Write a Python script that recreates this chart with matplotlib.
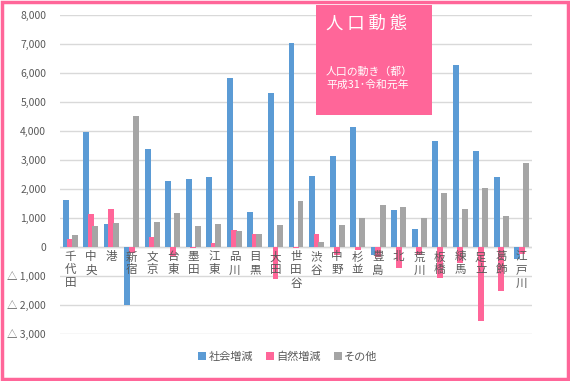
import matplotlib.pyplot as plt
import matplotlib.patches as patches
from matplotlib.ticker import FuncFormatter
import numpy as np

plt.rcParams['font.family'] = ['Noto Sans CJK JP', 'DejaVu Sans']

# 23 wards
wards = ['千代田', '中央', '港', '新宿', '文京', '台東', '墨田', '江東', '品川', '目黒', '大田',
         '世田谷', '渋谷', '中野', '杉並', '豊島', '北', '荒川', '板橋', '練馬', '足立', '葛飾', '江戸川']
social = [1620, 3970, 800, -1990, 3380, 2280, 2340, 2410, 5830, 1210, 5310,
          7030, 2450, 3140, 4140, -280, 1280, 620, 3660, 6280, 3310, 2410, -410]
natural = [280, 1150, 1310, -200, 360, -300, -20, 140, 590, 450, -1090,
           -20, 450, -280, -120, -360, -710, -270, -1070, -550, -2540, -1510, -230]
other = [410, 720, 840, 4520, 870, 1180, 720, 800, 550, 450, 760,
         1590, 170, 760, 1000, 1450, 1380, 1000, 1860, 1310, 2030, 1070, 2900]

blue = '#5B9BD5'
pink = '#FF6699'
grey = '#A5A5A5'
txt = '#595959'

fig = plt.figure(figsize=(5.7, 3.81), dpi=100)
ax = fig.add_axes([60 / 570, 1 - 334 / 381, 472 / 570, 319 / 381])

x = np.arange(len(wards))
w = 0.29
off = 0.22  # bars overlap a little, like the excel original
ax.bar(x - off, social, w, color=blue, zorder=2, label='社会増減')
ax.bar(x, natural, w, color=pink, zorder=2, label='自然増減')
ax.bar(x + off, other, w, color=grey, zorder=2, label='その他')

ax.set_xlim(-0.5, len(wards) - 0.5)
ax.set_ylim(-3000, 8000)
ax.set_yticks(range(-3000, 8001, 1000))


def fmt(v, pos):
    if v < 0:
        return '△ {:,.0f}'.format(-v)
    return '{:,.0f}'.format(v)


ax.yaxis.set_major_formatter(FuncFormatter(fmt))
ax.tick_params(axis='y', length=0, labelsize=7.5, labelcolor=txt, pad=10)
ax.set_xticks([])
ax.grid(axis='y', color='#D9D9D9', linewidth=1, zorder=0)
for s in ax.spines.values():
    s.set_visible(False)
ax.axhline(0, color='#D9D9D9', linewidth=1, zorder=1)

# vertical ward labels
for i, name in enumerate(wards):
    ax.text(i, -120, '\n'.join(name), ha='center', va='top', fontsize=8.3,
            color=txt, linespacing=1.0, zorder=5)

# title box
fig.patches.append(patches.Rectangle((316 / 570, 1 - 115 / 381), 116 / 570, 110 / 381,
                                     transform=fig.transFigure, facecolor=pink,
                                     edgecolor='none', zorder=10))
fig.text(326 / 570, 1 - 24 / 381, '人 口 動 態', fontsize=12.5, color='white',
         va='center', ha='left', zorder=11)
fig.text(326 / 570, 1 - 78 / 381, '人口の動き（都）\n平成31･令和元年', fontsize=7.8,
         color='white', va='center', ha='left', linespacing=1.3, zorder=11)

# legend
h, l = ax.get_legend_handles_labels()
leg = fig.legend(h, l, loc='center', bbox_to_anchor=(288 / 570, 1 - 357 / 381), ncol=3,
                 frameon=False, fontsize=8, handlelength=0.7, handleheight=0.7,
                 handletextpad=0.2, columnspacing=1.2)
for t in leg.get_texts():
    t.set_color(txt)

# pink frame
fig.patches.append(patches.Rectangle((0.003, 0.004), 0.993, 0.991, transform=fig.transFigure,
                                     facecolor='none', edgecolor=pink, linewidth=2.5, zorder=20))

fig.savefig('out.png', dpi=100)
